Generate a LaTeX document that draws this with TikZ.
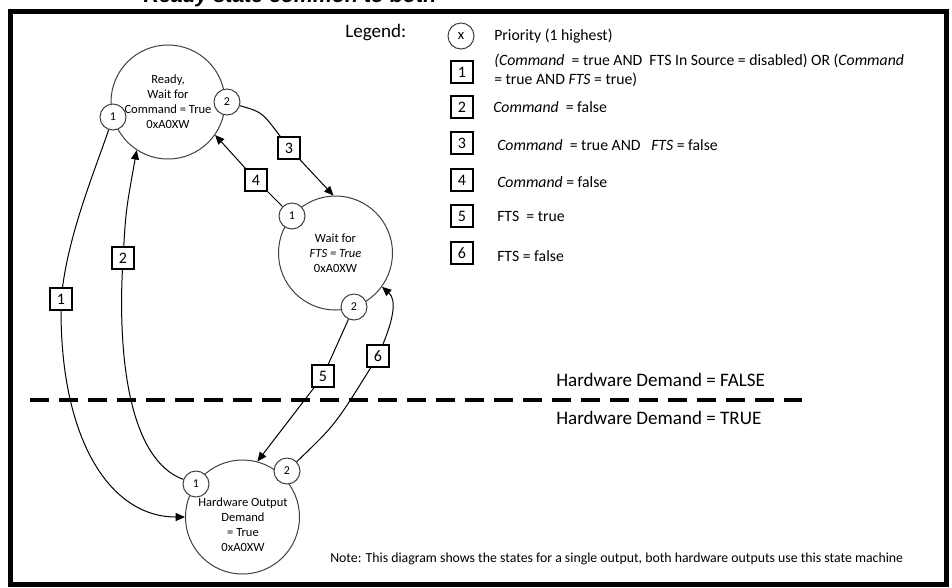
\documentclass[tikz,border=0pt]{standalone}
\usepackage{fontspec}
\setmainfont{Carlito}
\newfontfamily\titlefont{Liberation Sans}
\usetikzlibrary{arrows.meta,positioning}

\tikzset{
  state/.style={circle,draw=black!75,line width=0.75pt,minimum size=85.5pt,inner sep=0pt,
    align=center,font=\fontsize{9.4}{11.25}\selectfont},
  prio/.style={circle,draw=black!75,fill=white,line width=0.75pt,minimum size=19.5pt,
    inner sep=0pt,font=\fontsize{9}{10}\selectfont},
  cond/.style={draw,fill=white,line width=0.9pt,minimum size=16.5pt,inner sep=0pt,
    font=\fontsize{12}{14}\selectfont},
  trans/.style={line width=0.75pt},
  arr/.style={trans,-{Triangle[length=7pt,width=6pt]}},
  legtext/.style={anchor=west,inner sep=0pt,font=\fontsize{11.8}{14.25}\selectfont},
  bigtext/.style={anchor=west,inner sep=0pt,font=\fontsize{14.3}{17}\selectfont},
}

\begin{document}
\begin{tikzpicture}[x=0.75pt,y=-0.75pt]
  \useasboundingbox (0,0) rectangle (952,587);
  \fill[white] (0,0) rectangle (952,587);
  % cut-off heading and frame
  \begin{scope}
    \clip (0,0) rectangle (952,587);
    \node[anchor=base,inner sep=0pt,font=\titlefont\bfseries\itshape\fontsize{16}{18}\selectfont]
      (title) at (290,2.5) {Ready state common to both};
  \end{scope}
  \draw[line width=3.75pt] (10,11) rectangle (946,584.5);

  % States
  \node[state] (rdy) at (168,102) {Ready,\\Wait for\\Command = True\\0xA0XW};
  \node[state] (wait) at (335.5,253) {Wait for\\\textit{FTS = True}\\0xA0XW};
  \node[state] (hw) at (242.5,517) {};
  \node[align=center,inner sep=0pt,font=\fontsize{9.4}{11.25}\selectfont]
    (hwtxt) at (243,524.5) {Hardware Output\\Demand\\= True\\0xA0XW};

  % Priorities
  \node[prio] (r1) at (113,117) {1};
  \node[prio] (r2) at (227,102) {2};
  \node[prio] (w1) at (292,216) {1};
  \node[prio] (w2) at (354,307) {2};
  \node[prio] (h1) at (196,484) {1};
  \node[prio] (h2) at (287,471) {2};

  % Conditions
  \node[cond] (c1) at (61,299) {1};
  \node[cond] (c2) at (123,258) {2};
  \node[cond] (c3) at (289,148) {3};
  \node[cond] (c4) at (256,180) {4};
  \node[cond] (c5) at (323,376) {5};
  \node[cond] (c6) at (378,356) {6};

  % Transitions
  \draw[trans] (r1) .. controls (95,170) and (70,230) .. (c1);
  \draw[arr] (c1) .. controls (61,440) and (110,517) .. (hw.180);
  \draw[trans] (h1) .. controls (130,460) and (118,360) .. (c2);
  \draw[arr] (c2) .. controls (126,210) .. (rdy.237);
  \draw[trans] (r2) .. controls (262,112) .. (c3);
  \draw[arr] (c3) -- (wait.92);
  \draw[trans] (w1) -- (c4);
  \draw[arr] (c4) -- (rdy.-35);
  \draw[trans] (w2) -- (c5);
  \draw[arr] (c5) -- (hw.75);
  \draw[trans] (h2) .. controls (335,425) .. (c6);
  \draw[arr] (c6) .. controls (393,320) and (397,300) .. (wait.-36);

  % Demand boundary
  \coordinate (divL) at (30,400);
  \coordinate (divR) at (802,400);
  \draw[line width=2.6pt,dash pattern=on 14.25pt off 7.5pt] (divL) -- (divR);
  \node[bigtext] (dfalse) at (556,380) {Hardware Demand = FALSE};
  \node[bigtext] (dtrue) at (556,418) {Hardware Demand = TRUE};

  % Legend
  \node[bigtext] (legend) at (345,33) {Legend:};
  \node[prio,font=\fontsize{11}{12}\selectfont] (lgx) at (461,36) {x};
  \node[legtext] (lgp) at (494,36) {Priority (1 highest)};
  \foreach \n/\y in {1/72,2/107,3/143,4/180,5/216,6/253}
    \node[cond] (lg\n) at (462,\y) {\n};
  \node[legtext,align=left] (lt1) at (494,70.5)
    {\textit{(Command}\ \ = true AND\ \ FTS In Source = disabled) OR (\textit{Command}\\= true AND \textit{FTS} = true)};
  \node[legtext] (lt2) at (493,107) {\textit{Command}\ \ = false};
  \node[legtext] (lt3) at (497,145) {\textit{Command}\ \ = true AND\ \ \ \textit{FTS} = false};
  \node[legtext] (lt4) at (497,182) {\textit{Command} = false};
  \node[legtext] (lt5) at (497,216) {FTS\ \ = true};
  \node[legtext] (lt6) at (497,256) {FTS = false};

  \node[anchor=west,inner sep=0pt,font=\fontsize{10.35}{12}\selectfont] (note) at (330,559)
    {Note: This diagram shows the states for a single output, both hardware outputs use this state machine};
\end{tikzpicture}
\end{document}
